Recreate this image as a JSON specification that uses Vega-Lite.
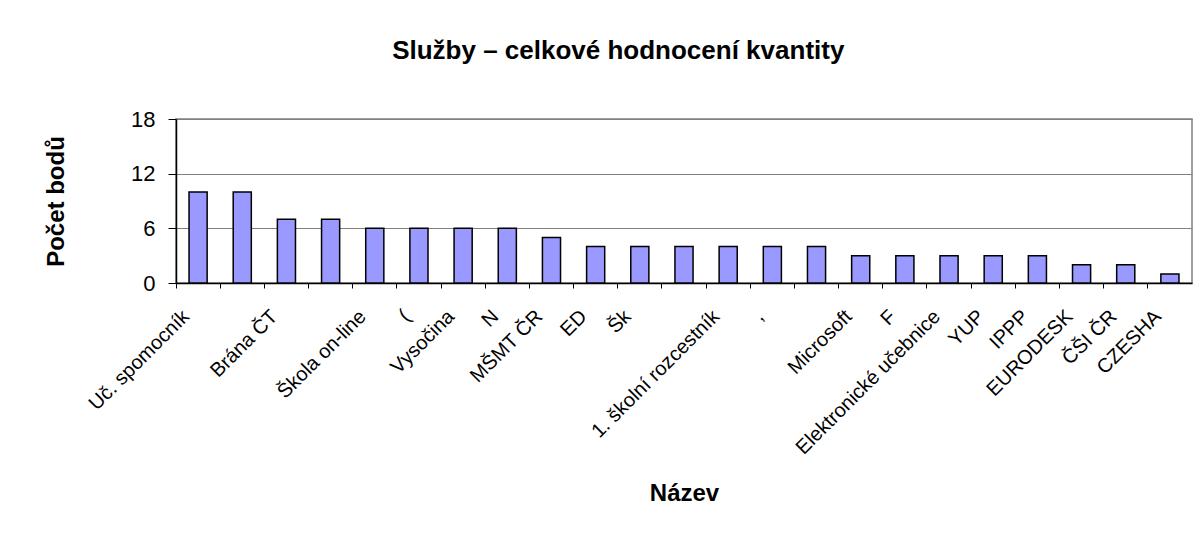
{
  "$schema": "https://vega.github.io/schema/vega-lite/v6.json",
  "width": 1016,
  "height": 164,
  "autosize": {"type": "none"},
  "padding": {"left": 176, "top": 119, "right": 8, "bottom": 252},
  "background": "white",
  "title": {
    "text": "Služby – celkové hodnocení kvantity",
    "font": "Liberation Sans",
    "fontSize": 26,
    "fontWeight": "bold",
    "color": "black",
    "anchor": "middle",
    "frame": "bounds",
    "offset": 44
  },
  "data": {
    "values": [
      {"nazev": "Uč. spomocník", "body": 10},
      {"nazev": " ", "body": 10},
      {"nazev": "Brána ČT", "body": 7},
      {"nazev": "  ", "body": 7},
      {"nazev": "Škola on-line", "body": 6},
      {"nazev": "(", "body": 6},
      {"nazev": "Vysočina", "body": 6},
      {"nazev": "N", "body": 6},
      {"nazev": "MŠMT ČR", "body": 5},
      {"nazev": "ED", "body": 4},
      {"nazev": "Šk", "body": 4},
      {"nazev": "   ", "body": 4},
      {"nazev": "1. školní rozcestník", "body": 4},
      {"nazev": ",", "body": 4},
      {"nazev": "    ", "body": 4},
      {"nazev": "Microsoft", "body": 3},
      {"nazev": "F", "body": 3},
      {"nazev": "Elektronické učebnice", "body": 3},
      {"nazev": "YUP", "body": 3},
      {"nazev": "IPPP", "body": 3},
      {"nazev": "EURODESK", "body": 2},
      {"nazev": "ČŠI ČR", "body": 2},
      {"nazev": "CZESHA", "body": 1}
    ]
  },
  "mark": {
    "type": "bar",
    "fill": "#9999FF",
    "stroke": "black",
    "strokeWidth": 1.5,
    "width": {"band": 0.41}
  },
  "encoding": {
    "x": {
      "field": "nazev",
      "type": "nominal",
      "sort": null,
      "scale": {"paddingInner": 0, "paddingOuter": 0},
      "axis": {
        "title": "Název",
        "titleFont": "Liberation Sans",
        "titleFontSize": 24,
        "titleFontWeight": "bold",
        "titleColor": "black",
        "titlePadding": 24,
        "labelFont": "Liberation Sans",
        "labelFontSize": 20,
        "labelColor": "black",
        "labelAngle": -45,
        "labelPadding": 18,
        "labelOffset": -19,
        "labelOverlap": false,
        "labelLimit": 400,
        "bandPosition": 0,
        "tickSize": 5,
        "tickColor": "black",
        "domainColor": "black",
        "domainWidth": 1.5,
        "grid": false
      }
    },
    "y": {
      "field": "body",
      "type": "quantitative",
      "scale": {"domain": [0, 18]},
      "axis": {
        "title": "Počet bodů",
        "titleFont": "Liberation Sans",
        "titleFontSize": 24,
        "titleFontWeight": "bold",
        "titleColor": "black",
        "titlePadding": 62,
        "values": [0, 6, 12, 18],
        "labelFont": "Liberation Sans",
        "labelFontSize": 22,
        "labelColor": "black",
        "labelPadding": 13,
        "tickSize": 8,
        "tickColor": "black",
        "domainColor": "black",
        "domainWidth": 1.5,
        "grid": true,
        "gridColor": "#808080",
        "gridWidth": 1.2
      }
    }
  },
  "config": {
    "view": {"stroke": "#808080", "strokeWidth": 1.5}
  }
}
